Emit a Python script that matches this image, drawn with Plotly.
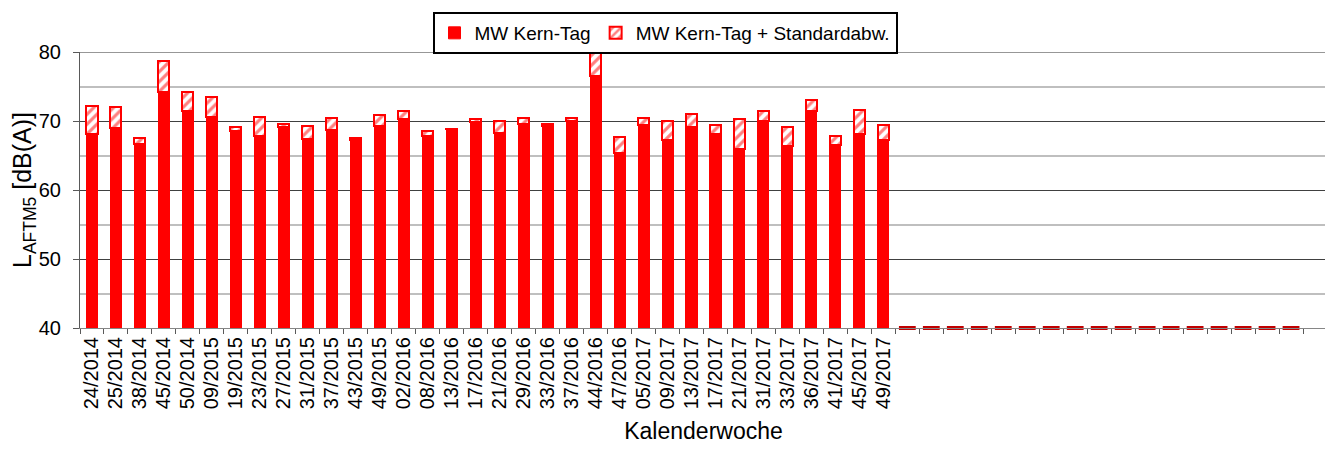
import plotly.graph_objects as go

# ---- data ----
week_labels = ["24/2014", "25/2014", "38/2014", "45/2014", "50/2014", "09/2015", "19/2015",
               "23/2015", "27/2015", "31/2015", "37/2015", "43/2015", "49/2015", "02/2016",
               "08/2016", "13/2016", "17/2016", "21/2016", "29/2016", "33/2016", "37/2016",
               "44/2016", "47/2016", "05/2017", "09/2017", "13/2017", "17/2017", "21/2017",
               "31/2017", "33/2017", "36/2017", "41/2017", "45/2017", "49/2017"]
mean_values = [68.1, 69.0, 66.7, 74.2, 71.5, 70.6, 68.6, 67.8, 69.2, 67.4, 68.7, 67.3, 69.3,
               70.3, 67.8, 68.8, 69.9, 68.2, 69.5, 69.3, 70.0, 76.5, 65.4, 69.4, 67.3, 69.2,
               68.1, 65.9, 70.0, 66.4, 71.4, 66.5, 68.1, 67.3]
std_values = [4.1, 3.1, 0.9, 4.5, 2.7, 2.9, 0.5, 2.8, 0.3, 1.9, 1.7, 0.3, 1.55,
              1.1, 0.8, 0.1, 0.4, 1.8, 0.9, 0.3, 0.4, 3.6, 2.35, 1.1, 2.7, 1.85,
              1.35, 4.35, 1.5, 2.7, 1.7, 1.35, 3.5, 2.15]
# empty weeks (no measurement) shown as small marks on the axis
empty_positions = [34, 35, 36, 37, 38, 39, 40, 41, 42, 43, 44, 45, 46, 47, 48, 49, 50]
empty_values = [40, 40, 40, 40, 40, 40, 40, 40, 40, 40, 40, 40, 40, 40, 40, 40, 40]
n_categories = 52
y_min, y_max = 40, 80

x_pos = list(range(len(week_labels)))
FONT = "Liberation Sans, Arial, sans-serif"

# page body has an 8px margin -> figure is drawn 8px right/down
W, H = 1325, 442

fig = go.Figure()
fig.add_trace(go.Bar(
    x=x_pos, y=mean_values, name="MW Kern-Tag", width=0.46,
    marker=dict(color="#FF0000", line=dict(color="#FF0000", width=1)),
))
fig.add_trace(go.Bar(
    x=x_pos, y=std_values, name="MW Kern-Tag + Standardabw.", width=0.46,
    marker=dict(color="white", line=dict(color="#FF0000", width=2),
                pattern=dict(shape="/", fgcolor="#FF0000", bgcolor="white",
                             size=7, solidity=0.45)),
))
fig.add_trace(go.Scatter(
    x=empty_positions, y=empty_values, mode="markers", showlegend=False,
    cliponaxis=False, hoverinfo="skip",
    marker=dict(symbol="line-ew", size=12, line=dict(color="#C00000", width=4)),
))
# invisible trace for tick axis
fig.add_trace(go.Scatter(x=[-0.5, n_categories - 0.5], y=[y_min, y_min], xaxis="x2",
                         mode="markers", marker=dict(opacity=0), showlegend=False,
                         hoverinfo="skip"))

fig.update_layout(
    width=W, height=H,
    barmode="stack",
    paper_bgcolor="white", plot_bgcolor="white",
    margin=dict(l=72, r=6, t=44, b=122, autoexpand=False),
    font=dict(family=FONT, color="black", size=19),
    legend=dict(orientation="h", xref="container", yref="container",
                x=(665 - 8) / W, xanchor="center", y=1 - 4 / H, yanchor="top",
                traceorder="normal",
                bordercolor="black", borderwidth=2, bgcolor="white",
                font=dict(size=19, family=FONT)),
    xaxis=dict(
        range=[-0.5, n_categories - 0.5], tickmode="array", tickvals=x_pos,
        ticktext=week_labels, tickangle=-90, ticks="", showgrid=False,
        zeroline=False, showline=True, linecolor="#868686", linewidth=1,
        tickfont=dict(size=20), automargin=False,
        title=dict(text="Kalenderwoche", font=dict(size=23), standoff=14),
    ),
    xaxis2=dict(
        overlaying="x", matches="x", anchor="y", side="bottom",
        tickmode="linear", tick0=-0.5, dtick=1, ticks="outside", ticklen=5,
        tickcolor="#595959", showticklabels=False, showgrid=False,
        zeroline=False, showline=False,
    ),
    yaxis=dict(
        range=[y_min, y_max], dtick=10, ticks="outside", ticklen=6,
        tickcolor="#595959", showline=True, linecolor="#595959",
        gridcolor="#404040", gridwidth=1, zeroline=False,
        tickfont=dict(size=20), automargin=False, ticklabelstandoff=8,
        minor=dict(dtick=5, showgrid=True, gridcolor="#BFBFBF", gridwidth=2, ticks=""),
        title=dict(text="L<sub>AFTM5</sub> [dB(A)]", font=dict(size=25), standoff=12),
    ),
    shapes=[
        dict(type="line", xref="paper", yref="paper", x0=1.0024, x1=1.0024,
             y0=-0.5, y1=1.3, line=dict(color="#A0A0A0", width=1)),
        dict(type="line", xref="paper", yref="y", x0=0, x1=1, y0=y_max, y1=y_max,
             line=dict(color="#303030", width=1), layer="below"),
    ],
)

fig.write_html("out.html")
